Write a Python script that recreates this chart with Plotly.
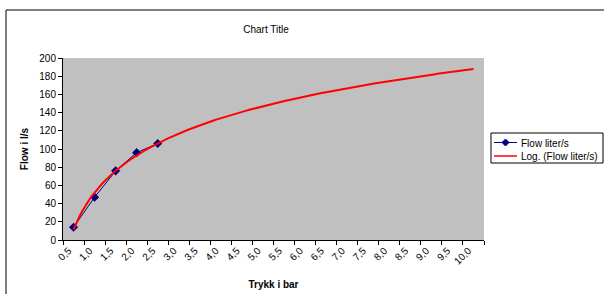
import numpy as np
import plotly.graph_objects as go

# Data
pressure_labels = ["0,5", "1,0", "1,5", "2,0", "2,5", "3,0", "3,5", "4,0", "4,5", "5,0",
                   "5,5", "6,0", "6,5", "7,0", "7,5", "8,0", "8,5", "9,0", "9,5", "10,0"]
flow_values = [14, 47, 76, 96, 106]
series_name = "Flow liter/s"
trend_name = "Log. (Flow liter/s)"
y_ticks = list(range(0, 201, 20))

cat_idx = np.arange(1, len(pressure_labels) + 1)
data_idx = cat_idx[:len(flow_values)]

# Logarithmic trendline fitted to the data (as Excel does), y = a*ln(x) + b
a, b = np.polyfit(np.log(data_idx), np.array(flow_values, dtype=float), 1)
trend_x = np.linspace(1, len(pressure_labels), 200)
trend_y = a * np.log(trend_x) + b

BLUE = "#000080"
RED = "#FF0000"

fig = go.Figure()
fig.add_trace(go.Scatter(
    x=data_idx, y=flow_values, mode="lines+markers", name=series_name,
    line=dict(color=BLUE, width=1),
    marker=dict(symbol="diamond", size=7, color=BLUE),
))
fig.add_trace(go.Scatter(
    x=trend_x, y=trend_y, mode="lines", name=trend_name,
    line=dict(color=RED, width=2),
))

font_family = "Liberation Sans, Arial, sans-serif"

# plot area in pixels
L, R, T, B = 63, 484, 58, 240
W, H = R - L, B - T


def px(x):
    return (x - L) / W


def py(y):
    return (B - y) / H


# manual legend (Excel style)
leg_shapes = [
    dict(type="rect", xref="paper", yref="paper", x0=px(491), x1=px(603), y0=py(163), y1=py(133),
         line=dict(color="black", width=1), fillcolor="white"),
    dict(type="line", xref="paper", yref="paper", x0=px(494), x1=px(517), y0=py(142.5), y1=py(142.5),
         line=dict(color=BLUE, width=1)),
    dict(type="path", xref="paper", yref="paper",
         path=f"M {px(505.5)} {py(139)} L {px(509)} {py(142.5)} L {px(505.5)} {py(146)} L {px(502)} {py(142.5)} Z",
         line=dict(color=BLUE, width=1), fillcolor=BLUE),
    dict(type="line", xref="paper", yref="paper", x0=px(494), x1=px(517), y0=py(156), y1=py(156),
         line=dict(color=RED, width=1.5)),
]
leg_annots = [
    dict(text=series_name, xref="paper", yref="paper", x=px(519), y=py(143), xanchor="left",
         yanchor="middle", showarrow=False, font=dict(size=10, color="black")),
    dict(text=trend_name, xref="paper", yref="paper", x=px(519), y=py(156), xanchor="left",
         yanchor="middle", showarrow=False, font=dict(size=10, color="black")),
]

fig.update_layout(
    width=604, height=294,
    margin=dict(l=L, r=604 - R, t=T, b=294 - B, autoexpand=False),
    paper_bgcolor="white",
    plot_bgcolor="#C0C0C0",
    font=dict(family=font_family, size=10, color="black"),
    title=dict(text="Chart Title", x=266 / 604, xanchor="center", y=1 - 29 / 294,
               yanchor="middle", font=dict(size=10, color="black"), automargin=False),
    showlegend=False,
    hovermode=False,
    xaxis=dict(
        range=[0.5, len(pressure_labels) + 0.5],
        tickmode="array", tickvals=list(cat_idx), ticktext=pressure_labels,
        tickangle=-45, ticks="", showgrid=False, zeroline=False,
        showline=True, linecolor="black", linewidth=1,
        ticklabelshift=-5, automargin=False,
        tickfont=dict(color="black"),
        minor=dict(tickmode="linear", tick0=0.5, dtick=1, ticks="outside",
                   ticklen=4, tickcolor="black", showgrid=False),
        title=dict(text="<b>Trykk i bar</b>", font=dict(size=10, color="black"), standoff=15),
        fixedrange=True,
    ),
    yaxis=dict(
        range=[0, 200], tickmode="array", tickvals=y_ticks,
        ticks="outside", ticklen=4, tickcolor="black",
        showgrid=False, zeroline=False, automargin=False,
        showline=True, linecolor="black", linewidth=1,
        tickfont=dict(color="black"),
        title=dict(text="<b>Flow i l/s</b>", font=dict(size=10, color="black"), standoff=8),
        fixedrange=True,
    ),
    shapes=[dict(type="rect", xref="paper", yref="paper",
                 x0=px(6), x1=px(620), y0=py(310), y1=py(10),
                 line=dict(color="black", width=1), fillcolor="rgba(0,0,0,0)",
                 layer="below")] + leg_shapes,
    annotations=leg_annots,
)

fig.write_html("out.html", config=dict(displayModeBar=False, staticPlot=True),
               post_script="document.body.style.margin='0px';")
